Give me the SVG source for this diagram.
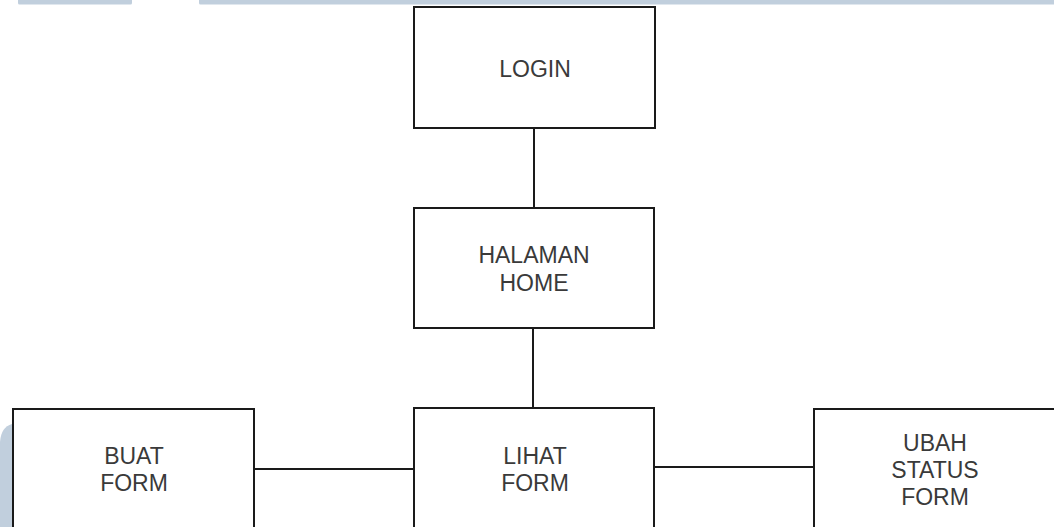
<svg xmlns="http://www.w3.org/2000/svg" width="1054" height="527" viewBox="0 0 1054 527">
<style>
.box{fill:#ffffff;stroke:#1a1a1a;stroke-width:2}
.lbl{font-family:"Liberation Sans",Arial,sans-serif;font-size:23px;fill:#3a3a3a;text-anchor:middle}
.conn{stroke:#1a1a1a;stroke-width:2;fill:none}
.deco{fill:#c1cfdd}
</style>
<rect width="1054" height="527" fill="#ffffff"/>
<g id="decoration">
<path class="deco" d="M18,0 H132 V3 Q132,4.5 130.5,4.5 H19.5 Q18,4.5 18,3 Z"/>
<path class="deco" d="M199,0 H1054 V4.5 H200.5 Q199,4.5 199,3 Z"/>
<path class="deco" d="M0,442 Q1,427 12,424 V527 H0 Z"/>
</g>
<g id="connectors">
<line class="conn" x1="534" y1="128" x2="534" y2="208"/>
<line class="conn" x1="533" y1="328" x2="533" y2="408"/>
<line class="conn" x1="254" y1="469" x2="414" y2="469"/>
<line class="conn" x1="654" y1="467" x2="814" y2="467"/>
</g>
<g id="login">
<rect class="box" x="414" y="7" width="241" height="121"/>
<text class="lbl" x="535" y="77">LOGIN</text>
</g>
<g id="home">
<rect class="box" x="414" y="208" width="240" height="120"/>
<text class="lbl" x="534" y="263">HALAMAN</text>
<text class="lbl" x="534" y="291">HOME</text>
</g>
<g id="buat">
<rect class="box" x="13" y="409" width="241" height="130"/>
<text class="lbl" x="134" y="464">BUAT</text>
<text class="lbl" x="134" y="491">FORM</text>
</g>
<g id="lihat">
<rect class="box" x="414" y="408" width="240" height="130"/>
<text class="lbl" x="535" y="464">LIHAT</text>
<text class="lbl" x="535" y="491">FORM</text>
</g>
<g id="ubah">
<rect class="box" x="814" y="409" width="241" height="130"/>
<text class="lbl" x="935" y="451">UBAH</text>
<text class="lbl" x="935" y="478">STATUS</text>
<text class="lbl" x="935" y="505">FORM</text>
</g>
</svg>
